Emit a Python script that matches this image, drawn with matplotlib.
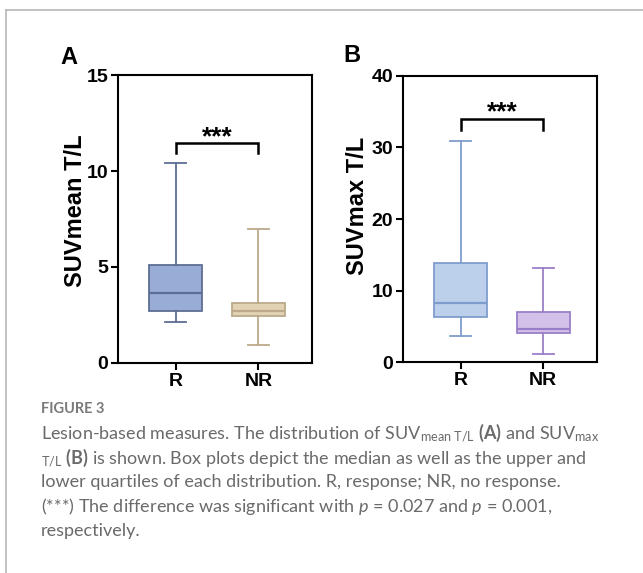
import numpy as np
import matplotlib
matplotlib.use('Agg')
from matplotlib import pyplot as plt
from matplotlib.lines import Line2D

plt.rcParams['font.family'] = 'Liberation Sans'
plt.rcParams['mathtext.fontset'] = 'custom'
plt.rcParams['mathtext.rm'] = 'Lato'
plt.rcParams['mathtext.it'] = 'Lato:italic'
plt.rcParams['mathtext.bf'] = 'Lato:bold'

# values
groups = ['R', 'NR']
# panel A: SUVmean T/L
a_whislo = [2.12, 0.94]
a_q1 = [2.71, 2.47]
a_med = [3.65, 2.71]
a_q3 = [5.13, 3.15]
a_whishi = [10.4, 7.0]
# panel B: SUVmax T/L
b_whislo = [3.6, 1.17]
b_q1 = [6.3, 4.06]
b_med = [8.2, 4.67]
b_q3 = [13.8, 7.0]
b_whishi = [30.9, 13.1]

a_fill = ['#98acd6', '#e2d3b5']
a_edge = ['#5d6d94', '#bba98a']
b_fill = ['#bcd0ec', '#d3c1ea']
b_edge = ['#7f9dcc', '#9a7fc8']

fig = plt.figure(figsize=(6.43, 5.73), dpi=100)

def panel(ax, lo, q1, med, q3, hi, fills, edges, ymax, step, ylabel, label_xy, bracket_y, drop):
    stats = []
    for i in range(len(groups)):
        stats.append({'whislo': lo[i], 'q1': q1[i], 'med': med[i], 'q3': q3[i],
                      'whishi': hi[i], 'fliers': []})
    for i, st in enumerate(stats):
        ax.bxp([st], positions=[i + 1], widths=0.64, capwidths=0.25,
               showfliers=False, patch_artist=True,
               boxprops=dict(facecolor=fills[i], edgecolor=edges[i], linewidth=1.3),
               medianprops=dict(color=edges[i], linewidth=1.6),
               whiskerprops=dict(color=edges[i], linewidth=1.3),
               capprops=dict(color=edges[i], linewidth=1.3))
    ax.set_xlim(0.30, 2.65)
    ax.set_ylim(0, ymax)
    ax.set_yticks(np.arange(0, ymax + 1, step))
    ax.set_xticks([1, 2])
    ax.set_xticklabels(groups)
    for s in ax.spines.values():
        s.set_linewidth(1.5)
    ax.tick_params(width=1.5, length=5, labelsize=14, pad=2)
    for lab in ax.get_xticklabels() + ax.get_yticklabels():
        lab.set_fontweight('bold')
    ax.set_ylabel(ylabel, fontsize=17, fontweight='bold')
    ax.yaxis.set_label_coords(*label_xy)
    ax.plot([1, 1, 2, 2], [bracket_y - drop, bracket_y, bracket_y, bracket_y - drop],
            color='black', lw=1.8, solid_joinstyle='miter')
    ax.text(1.5, bracket_y + drop * 0.6, '***', ha='center', va='center',
            fontsize=19, fontweight='bold')

ax1 = fig.add_axes([0.1835, 0.3665, 0.3017, 0.5026])
panel(ax1, a_whislo, a_q1, a_med, a_q3, a_whishi, a_fill, a_edge, 15, 5,
      'SUVmean T/L', (-0.16, 0.528), 11.45, 0.5)
ax2 = fig.add_axes([0.6267, 0.3682, 0.3017, 0.4992])
panel(ax2, b_whislo, b_q1, b_med, b_q3, b_whishi, b_fill, b_edge, 40, 10,
      'SUVmax T/L', (-0.175, 0.545), 34.0, 1.6)

fig.text(60 / 643, 1 - 57 / 573, 'A', fontsize=17, fontweight='bold', va='center')
fig.text(343 / 643, 1 - 56 / 573, 'B', fontsize=17, fontweight='bold', va='center')

# frame
fig.add_artist(Line2D([6 / 643, 1], [1 - 10 / 573, 1 - 10 / 573], color='#b8b8b8', lw=1.2,
                      transform=fig.transFigure))
fig.add_artist(Line2D([6 / 643, 6 / 643], [0, 1 - 10 / 573], color='#b8b8b8', lw=1.2,
                      transform=fig.transFigure))

cap_color = '#6a6a6a'
fig.text(41 / 643, 1 - 409 / 573, 'FIGURE 3', fontsize=10.5, fontweight='bold',
         color='#7a7a7a', family='Lato', va='center')
lines = [
    r'Lesion-based measures. The distribution of SUV$_{\mathrm{mean\ T/L}}$ $\mathbf{(A)}$ and SUV$_{\mathrm{max}}$',
    r'$_{\mathrm{T/L}}$ $\mathbf{(B)}$ is shown. Box plots depict the median as well as the upper and',
    'lower quartiles of each distribution. R, response; NR, no response.',
    r'(***) The difference was significant with $p$ = 0.027 and $p$ = 0.001,',
    'respectively.',
]
for i, ln in enumerate(lines):
    fig.text(41 / 643, 1 - (433 + 24.4 * i) / 573, ln, fontsize=13, color=cap_color,
             family='Lato', va='center')

fig.savefig('out.png', dpi=100)
